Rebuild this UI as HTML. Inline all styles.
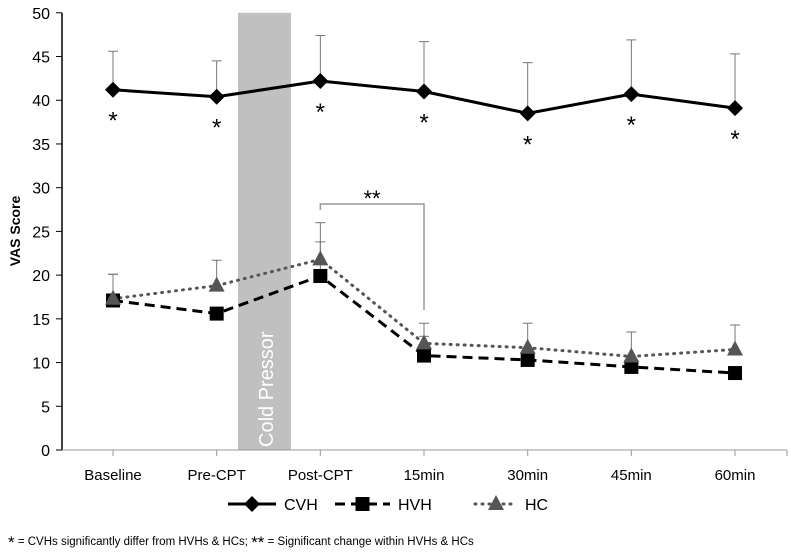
<!DOCTYPE html>
<html><head><meta charset="utf-8"><style>
body{margin:0;background:#fff;}
svg text{font-family:"Liberation Sans",sans-serif;}
</style></head><body>
<svg id="c" width="791" height="551" xmlns="http://www.w3.org/2000/svg"></svg>
<script>
const categories=["Baseline","Pre-CPT","Post-CPT","15min","30min","45min","60min"];
const cvh=[41.2,40.4,42.2,41.0,38.5,40.7,39.1];
const cvhErr=[4.4,4.1,5.2,5.7,5.8,6.2,6.2];
const hvh=[17.1,15.6,19.9,10.8,10.3,9.5,8.8];
const hvhErr=[3.0,0,3.9,2.2,0,0,0];
const hc=[17.3,18.8,21.8,12.2,11.7,10.7,11.5];
const hcErr=[2.8,2.9,4.2,2.3,2.8,2.8,2.8];
const yTicks=[0,5,10,15,20,25,30,35,40,45,50];
const svg=document.getElementById('c');const NS="http://www.w3.org/2000/svg";
const y0=450,yTop=12.8;
function Y(v){return y0-(y0-yTop)*v/50;}
function X(i){return 113+i*103.67;}
function el(t,a,p){const e=document.createElementNS(NS,t);for(const k in a)e.setAttribute(k,a[k]);(p||svg).appendChild(e);return e;}
let band=el('rect',{x:238,y:Y(50),width:53,height:y0-Y(50),fill:'#c0c0c0'});


let bt=el('text',{x:0,y:0,'font-size':20,fill:'#fff',transform:'translate(273,447) rotate(-90)'});bt.textContent='Cold Pressor';


el('line',{x1:62,y1:Y(50),x2:62,y2:y0,stroke:'#000','stroke-width':1.5});
el('line',{x1:62,y1:y0,x2:787,y2:y0,stroke:'#999','stroke-width':1});
yTicks.forEach(v=>{el('line',{x1:56,y1:Y(v),x2:62,y2:Y(v),stroke:'#000'});
 let t=el('text',{x:50,y:Y(v)+6,'font-size':16,'text-anchor':'end'});t.textContent=v;
 
 });
categories.forEach((c,i)=>{el('line',{x1:X(i),y1:y0,x2:X(i),y2:y0+6,stroke:'#999'});
 let t=el('text',{x:X(i),y:480,'font-size':15,'text-anchor':'middle'});t.textContent=c;
 
 });
el('line',{x1:787,y1:y0,x2:787,y2:y0+6,stroke:'#999'});
let yt=el('text',{x:0,y:0,'font-size':14,'font-weight':'bold','text-anchor':'middle',transform:'translate(20,231) rotate(-90)'});yt.textContent='VAS Score';


function errs(vals,err,col){vals.forEach((v,i)=>{if(!err[i])return;el('line',{x1:X(i),y1:Y(v),x2:X(i),y2:Y(v+err[i]),stroke:col});el('line',{x1:X(i)-5,y1:Y(v+err[i]),x2:X(i)+5,y2:Y(v+err[i]),stroke:col});});}
errs(cvh,cvhErr,'#777');errs(hc,hcErr,'#777');errs(hvh,hvhErr,'#777');
function pts(vals){return vals.map((v,i)=>X(i)+','+Y(v)).join(' ');}
let l1=el('polyline',{points:pts(hc),fill:'none',stroke:'#555','stroke-width':3,'stroke-dasharray':'1,6','stroke-linecap':'round'});


let l2=el('polyline',{points:pts(hvh),fill:'none',stroke:'#000','stroke-width':3,'stroke-dasharray':'10,6'});


let l3=el('polyline',{points:pts(cvh),fill:'none',stroke:'#000','stroke-width':3});


function sq(x,y){return el('rect',{x:x-7,y:y-7,width:14,height:14,fill:'#000'});}
function tri(x,y){return el('polygon',{points:`${x},${y-9} ${x+8},${y+6} ${x-8},${y+6}`,fill:'#555'});}
function dia(x,y){return el('polygon',{points:`${x},${y-8} ${x+8},${y} ${x},${y+8} ${x-8},${y}`,fill:'#000'});}
hvh.forEach((v,i)=>{let m=sq(X(i),Y(v));
});
hc.forEach((v,i)=>{let m=tri(X(i),Y(v));
});
cvh.forEach((v,i)=>{let m=dia(X(i),Y(v));

let a=el('text',{x:X(i),y:Y(v)+39,'font-size':24,'text-anchor':'middle'});a.textContent='*';

});
let br=el('polyline',{points:`${X(2)},210 ${X(2)},204 ${X(3)},204 ${X(3)},310`,fill:'none',stroke:'#999','stroke-width':1.5});


let bs=el('text',{x:372,y:206,'font-size':22,'text-anchor':'middle'});bs.textContent='**';


function leg(x,name,dash,col,mk,w){
 const g=el('g',{});
 el('line',{x1:x,y1:504,x2:x+w,y2:504,stroke:col,'stroke-width':3,'stroke-dasharray':dash,'stroke-linecap':dash==='1,6'?'round':'butt'},g);
 mk(x+w/2,504);
 let t=el('text',{x:x+w+8,y:510,'font-size':16},g);t.textContent=name;return g;}
let g1=leg(228,'CVH','none','#000',dia,48);

let g2=leg(335,'HVH','10,6','#000',sq,55);

let g3=leg(475,'HC','1,6','#555',tri,42);

let fn=el('text',{x:8,y:545,'font-size':11.5});fn.innerHTML='<tspan font-size="17" dy="3">*</tspan><tspan dy="-3"> = CVHs significantly differ from HVHs &amp; HCs;  </tspan><tspan font-size="17" dy="3">**</tspan><tspan dy="-3"> = Significant change within HVHs &amp; HCs</tspan>';


</script>
</body></html>
